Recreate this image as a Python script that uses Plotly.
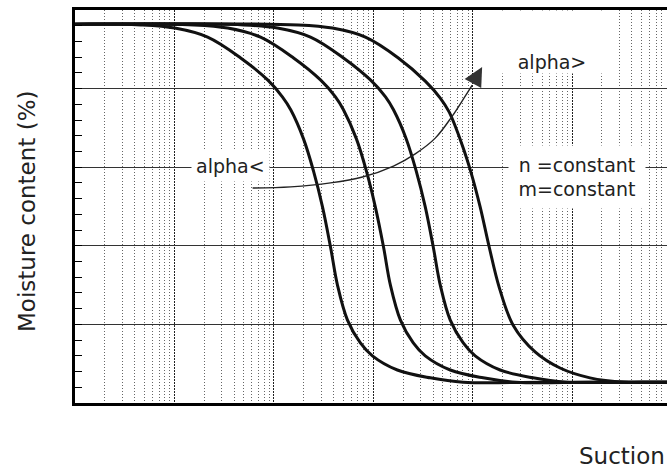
import math
import plotly.graph_objects as go

# Soil-water characteristic curves (van Genuchten form): alpha varied, n and m fixed
suction_a1 = [0.1, 0.46, 1.01, 2.16, 4.64, 8.67, 12.2, 14.8, 19.9, 25.1, 30.9, 37.2, 43.7, 55.1, 74.3, 98.2, 175, 375, 805, 5000, 100000]
moisture_a1 = [96.4, 96.2, 95.4, 93.1, 87.8, 82.2, 77.9, 74.6, 67.2, 59.0, 49.9, 39.7, 30.0, 21.1, 15.3, 12.0, 8.4, 6.4, 5.3, 5.3, 5.3]

suction_a2 = [0.1, 1.57, 3.44, 7.36, 15.8, 29.5, 41.7, 50.2, 67.8, 85.5, 105, 127, 149, 188, 253, 334, 596, 1276, 2740, 15000, 100000]
moisture_a2 = [96.4, 96.2, 95.4, 93.1, 87.8, 82.2, 77.9, 74.6, 67.2, 59.0, 49.9, 39.7, 30.0, 21.1, 15.3, 12.0, 8.4, 6.4, 5.3, 5.3, 5.3]

suction_a3 = [0.1, 4.98, 10.9, 23.4, 50.2, 93.8, 133, 160, 215, 271, 334, 402, 473, 596, 805, 1062, 1892, 4055, 8710, 30000, 100000]
moisture_a3 = [96.4, 96.2, 95.4, 93.1, 87.8, 82.2, 77.9, 74.6, 67.2, 59.0, 49.9, 39.7, 30.0, 21.1, 15.3, 12.0, 8.4, 6.4, 5.3, 5.3, 5.3]

suction_a4 = [0.1, 17.7, 38.9, 83.5, 179, 334, 473, 582, 787, 968, 1191, 1469, 1849, 2558, 4256, 7586, 15170, 34040, 60000, 100000]
moisture_a4 = [96.4, 96.2, 95.4, 93.1, 87.8, 81.9, 77.6, 74.0, 65.6, 58.5, 49.9, 39.7, 29.5, 19.8, 13.0, 8.9, 6.4, 5.3, 5.3, 5.3]

# Curved pointer showing the direction of increasing alpha
arrow_suction = [6.12, 14.8, 37.2, 78.0, 160, 265, 421, 624, 843, 991]
arrow_moisture = [54.7, 55.0, 56.0, 57.5, 60.3, 63.4, 67.4, 73.0, 78.1, 80.9]
arrow_tip = (1247, 85.5)

decades = [0.1, 1, 10, 100, 1000, 10000, 100000]
minor_vals = [d * k for d in decades for k in range(2, 10)]

FONT = "DejaVu Sans"
TXT = "#222222"

# plot-area geometry in pixels
L, T, B, W = 75, 10, 68, 667
PW, PH = W - L, 471 - T - B


def px(xp):
    return (xp - L) / PW


def py(yp):
    return (T + PH - yp) / PH


fig = go.Figure()

for sx, my in [(suction_a1, moisture_a1), (suction_a2, moisture_a2),
               (suction_a3, moisture_a3), (suction_a4, moisture_a4)]:
    fig.add_trace(go.Scatter(
        x=sx, y=my, mode="lines",
        line=dict(color="#111111", width=3, shape="spline", smoothing=1.0),
        hoverinfo="skip", showlegend=False,
    ))

fig.add_trace(go.Scatter(
    x=arrow_suction, y=arrow_moisture, mode="lines",
    line=dict(color="#222222", width=1.4, shape="spline", smoothing=1.0),
    hoverinfo="skip", showlegend=False,
))

annotations = [
    # arrowhead at the end of the curved pointer
    dict(x=math.log10(arrow_tip[0]), y=arrow_tip[1], xref="x", yref="y",
         text="", showarrow=True, ax=-10, ay=18,
         arrowhead=2, arrowsize=2.7, arrowwidth=1.4, arrowcolor="#333333"),
    dict(text="alpha<", x=px(191), y=py(166), xref="paper", yref="paper",
         xanchor="left", yanchor="middle", showarrow=False,
         font=dict(family=FONT, size=19, color=TXT),
         bgcolor="white", borderpad=4),
    dict(text="alpha>", x=px(497), y=py(10), xref="paper", yref="paper",
         xanchor="left", yanchor="top", showarrow=False, width=108, height=62,
         valign="bottom", align="center",
         font=dict(family=FONT, size=19, color=TXT),
         bgcolor="white", borderpad=0),
    dict(text="n =constant<br>m=constant", x=px(508), y=py(145),
         xref="paper", yref="paper", xanchor="left", yanchor="top", showarrow=False,
         width=134, height=60, align="center", valign="middle",
         font=dict(family=FONT, size=19, color=TXT),
         bgcolor="white", borderpad=1),
    dict(text="Moisture content (%)", textangle=-90, x=px(27), y=py(212),
         xref="paper", yref="paper", xanchor="center", yanchor="middle", showarrow=False,
         font=dict(family=FONT, size=23, color=TXT)),
    dict(text="Suction", x=px(667), y=py(456),
         xref="paper", yref="paper", xanchor="right", yanchor="middle", showarrow=False,
         font=dict(family=FONT, size=23, color=TXT)),
]

fig.update_layout(
    width=W, height=471,
    margin=dict(l=L, r=0, t=T, b=B),
    paper_bgcolor="white", plot_bgcolor="white",
    showlegend=False,
    annotations=annotations,
    font=dict(family=FONT),
)

fig.update_xaxes(
    type="log", range=[-1, -1 + PW / 99.4],
    tickmode="array", tickvals=decades, showticklabels=False, ticks="",
    showgrid=True, gridcolor="#222222", gridwidth=1.3, griddash="2px,1px",
    minor=dict(tickmode="array", tickvals=minor_vals, showgrid=True,
               gridcolor="#666666", gridwidth=1, griddash="1px,2px", ticks=""),
    showline=True, linecolor="black", linewidth=2.5, mirror=True,
    zeroline=False,
)

fig.update_yaxes(
    range=[0, 100], tickmode="linear", tick0=0, dtick=20,
    showticklabels=False, ticks="inside", ticklen=7, tickcolor="black", tickwidth=1,
    showgrid=True, gridcolor="#333333", gridwidth=1.4,
    minor=dict(tickmode="linear", tick0=0, dtick=4, ticks="inside", ticklen=7,
               tickcolor="black", tickwidth=1, showgrid=False),
    showline=True, linecolor="black", linewidth=3, mirror=False,
    zeroline=False,
)

fig.write_html("out.html")
